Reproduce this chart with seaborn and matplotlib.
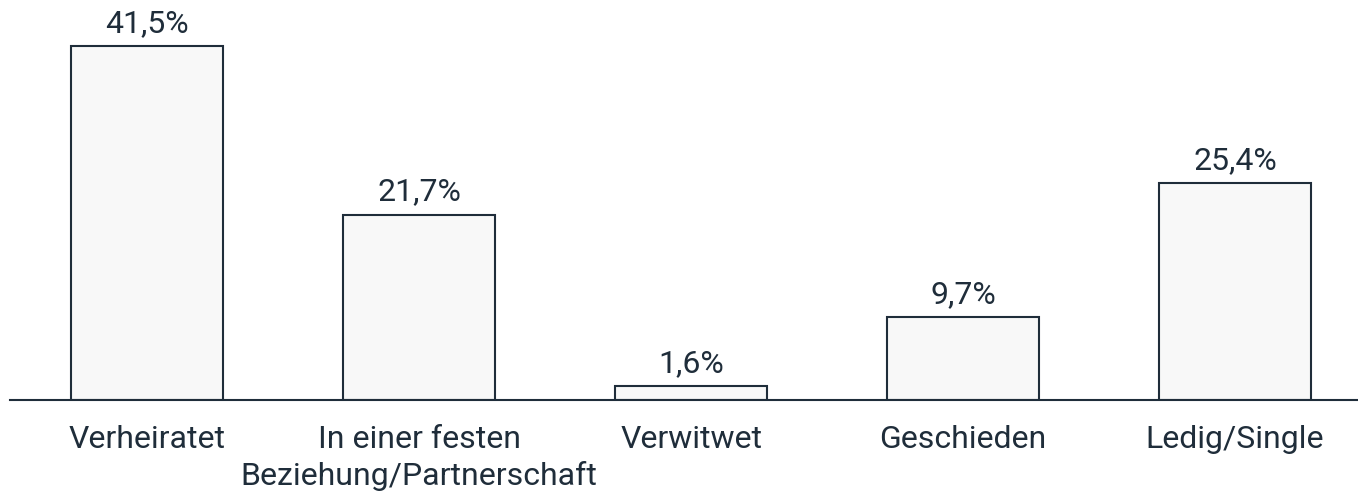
import pandas as pd
import seaborn as sns
import matplotlib.pyplot as plt

# Daten
kategorien = ["Verheiratet", "In einer festen\nBeziehung/Partnerschaft", "Verwitwet", "Geschieden", "Ledig/Single"]
anteile = [41.5, 21.7, 1.6, 9.7, 25.4]

df = pd.DataFrame({"status": kategorien, "anteil": anteile})

dunkel = "#1f2d3a"
sns.set_style("white")
plt.rcParams["font.family"] = ["Roboto", "DejaVu Sans"]

fig = plt.figure(figsize=(13.58, 4.95), dpi=100)
ax = fig.add_axes([10 / 1358, 95 / 495, 1348 / 1358, 400 / 495])

sns.barplot(data=df, x="status", y="anteil", color="#f8f8f8", edgecolor=dunkel,
            linewidth=1.5, width=0.56, saturation=1, ax=ax)

# Werte über den Balken
ax.bar_label(ax.containers[0], labels=[f"{v:.1f}%".replace(".", ",") for v in anteile],
             padding=6, fontsize=23, color=dunkel)

ax.set_xlim(-0.504, 4.452)
ax.set_ylim(0, 46.9)
ax.set_xlabel("")
ax.set_ylabel("")
ax.set_yticks([])
ax.tick_params(axis="x", length=0, pad=18, labelsize=23, labelcolor=dunkel)
for lbl in ax.get_xticklabels():
    lbl.set_linespacing(1.3)
for s in ["top", "left", "right"]:
    ax.spines[s].set_visible(False)
ax.spines["bottom"].set_color(dunkel)
ax.spines["bottom"].set_linewidth(1.5)

fig.savefig("out.png", dpi=100)
